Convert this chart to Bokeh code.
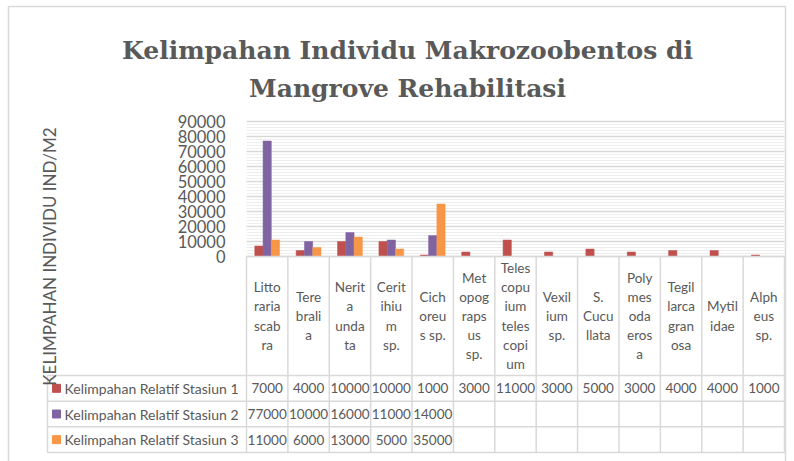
import math
from bokeh.plotting import figure
from bokeh.models import Range1d
from bokeh.core.properties import value
from bokeh.embed import file_html
from bokeh.resources import INLINE

# ---------------- data ----------------
title_lines = ["Kelimpahan Individu Makrozoobentos di", "Mangrove Rehabilitasi"]
y_title = "KELIMPAHAN INDIVIDU IND/M2"
categories = ["Littoraria scabra", "Terebralia", "Nerita undata", "Ceritihium sp.",
              "Cichoreus sp.", "Metopograpsus sp.", "Telescopium telescopium",
              "Vexilium sp.", "S. Cucullata", "Polymesoda erosa",
              "Tegillarca granosa", "Mytilidae", "Alpheus sp."]
category_labels = ["Litto\nraria\nscab\nra", "Tere\nbrali\na", "Nerit\na\nunda\nta",
                   "Cerit\nihiu\nm\nsp.", "Cich\noreu\ns sp.", "Met\nopog\nraps\nus\nsp.",
                   "Teles\ncopu\nium\nteles\ncopi\num", "Vexil\nium\nsp.", "S.\nCucu\nllata",
                   "Poly\nmes\noda\neros\na", "Tegil\nlarca\ngran\nosa", "Mytil\nidae",
                   "Alph\neus\nsp."]
series_names = ["Kelimpahan Relatif Stasiun 1", "Kelimpahan Relatif Stasiun 2",
                "Kelimpahan Relatif Stasiun 3"]
stasiun1 = [7000, 4000, 10000, 10000, 1000, 3000, 11000, 3000, 5000, 3000, 4000, 4000, 1000]
stasiun2 = [77000, 10000, 16000, 11000, 14000, None, None, None, None, None, None, None, None]
stasiun3 = [11000, 6000, 13000, 5000, 35000, None, None, None, None, None, None, None, None]
series = [stasiun1, stasiun2, stasiun3]
colors = ["#C0504D", "#8064A2", "#F79646"]
y_ticks = [0, 10000, 20000, 30000, 40000, 50000, 60000, 70000, 80000, 90000]
y_minor_step = 2000

# ---------------- layout (page pixels) ----------------
W, H = 794, 461
FIG_L, FIG_T = 0, 0
FIG_R, FIG_B = FIG_L + W, FIG_T + H
BOX_L, BOX_R, BOX_T = 8, 785, 6
PLOT_L, PLOT_R = 246, 784
PLOT_TOP, PLOT_ZERO = 121, 256
ROW_TOP, ROW_BOT = 375, 452
LEG_L = 47
TEXT = "#595959"
GRID = "#d9d9d9"
FONT = "Lato"

n = len(categories)
colw = (PLOT_R - PLOT_L) / n
ymax = y_ticks[-1]
ys = ymax / (PLOT_ZERO - PLOT_TOP)
rh = (ROW_BOT - ROW_TOP) / len(series)

p = figure(width=W, height=H, output_backend="svg", toolbar_location=None,
           x_axis_location=None, y_axis_location=None,
           x_range=Range1d((FIG_L - PLOT_L) / colw, (FIG_R - PLOT_L) / colw),
           y_range=Range1d(-(FIG_B - PLOT_ZERO) * ys, (PLOT_ZERO - FIG_T) * ys),
           min_border=0)
p.extra_y_ranges = {"tbl": Range1d(-(FIG_B - ROW_TOP) / rh, (ROW_TOP - FIG_T) / rh),
                    "px": Range1d(FIG_B, FIG_T)}
p.extra_x_ranges = {"px": Range1d(FIG_L, FIG_R)}
p.grid.visible = False
p.outline_line_color = None
p.background_fill_color = "white"
p.border_fill_color = "white"

# chart border
p.quad(left=[BOX_L], right=[BOX_R], top=[BOX_T], bottom=[FIG_B + 10],
       fill_color=None, line_color=GRID, line_width=1.5,
       x_range_name="px", y_range_name="px")

# ---------------- gridlines ----------------
minor = [v for v in range(0, ymax + 1, y_minor_step) if v not in y_ticks]
p.segment(x0=[0] * len(minor), x1=[n] * len(minor), y0=minor, y1=minor,
          line_color="#eeeeee", line_width=1)
p.segment(x0=[0] * len(y_ticks), x1=[n] * len(y_ticks), y0=y_ticks, y1=y_ticks,
          line_color=GRID, line_width=1.5)

# ---------------- bars ----------------
bw = 0.2
for k, (vals, c) in enumerate(zip(series, colors)):
    xs = [i + 0.5 + (k - 1) * bw for i, v in enumerate(vals) if v is not None]
    tops = [v for v in vals if v is not None]
    p.vbar(x=xs, top=tops, bottom=0, width=bw, fill_color=c, line_color=c, line_width=0.5)

# ---------------- y tick labels ----------------
p.text(x=[0] * len(y_ticks), y=y_ticks, text=[str(t) for t in y_ticks],
       x_offset=-21, text_align="right", text_baseline="middle",
       text_font=value(FONT), text_font_size="16.5px", text_color=TEXT)

# ---------------- data table ----------------
nrow = len(series)
hdr_top = (ROW_TOP - PLOT_ZERO) / rh
p.segment(x0=[0], x1=[n], y0=[0], y1=[0], line_color=GRID, line_width=1.5)
hl = [-k for k in range(nrow + 1)]
lx = (LEG_L - PLOT_L) / colw
p.segment(x0=[lx] * len(hl), x1=[n] * len(hl), y0=hl, y1=hl,
          line_color=GRID, line_width=1.5, y_range_name="tbl")
vx = list(range(n + 1))
p.segment(x0=vx, x1=vx, y0=[-nrow] * len(vx), y1=[hdr_top] * len(vx),
          line_color=GRID, line_width=1.5, y_range_name="tbl")
p.segment(x0=[lx], x1=[lx], y0=[-nrow], y1=[0], line_color=GRID, line_width=1.5,
          y_range_name="tbl")
p.text(x=[i + 0.5 for i in range(n)], y=[hdr_top / 2] * n, text=category_labels,
       text_align="center", text_baseline="middle", text_line_height=1.19,
       text_font=value(FONT), text_font_size="13.5px", text_color=TEXT,
       y_range_name="tbl")
for k, vals in enumerate(series):
    xs = [i + 0.5 for i, v in enumerate(vals) if v is not None]
    tx = [str(v) for v in vals if v is not None]
    p.text(x=xs, y=[-(k + 0.5)] * len(xs), text=tx, text_align="center",
           text_baseline="middle", text_font=value(FONT), text_font_size="13.5px",
           text_color=TEXT, y_range_name="tbl")
ry = [-(k + 0.5) for k in range(nrow)]
p.scatter(x=[LEG_L + 9] * nrow, y=ry, marker="square", size=8, fill_color=colors,
          line_color=colors, x_range_name="px", y_range_name="tbl")
p.text(x=[LEG_L + 17] * nrow, y=ry, text=series_names, text_align="left",
       text_baseline="middle", text_font=value(FONT), text_font_size="14px",
       text_color=TEXT, x_range_name="px", y_range_name="tbl")

# ---------------- titles ----------------
p.text(x=[407] * 2, y=[50, 88], text=title_lines,
       text_align="center", text_baseline="alphabetic",
       text_font=value("DejaVu Serif"), text_font_style="bold", text_font_size="25px",
       text_color=TEXT, x_range_name="px", y_range_name="px")
p.text(x=[49], y=[256], text=[y_title], angle=math.pi / 2, text_align="center",
       text_baseline="middle", text_font=value(FONT), text_font_size="17px",
       text_color=TEXT, x_range_name="px", y_range_name="px")

open("out.html", "w").write(file_html(p, INLINE))
